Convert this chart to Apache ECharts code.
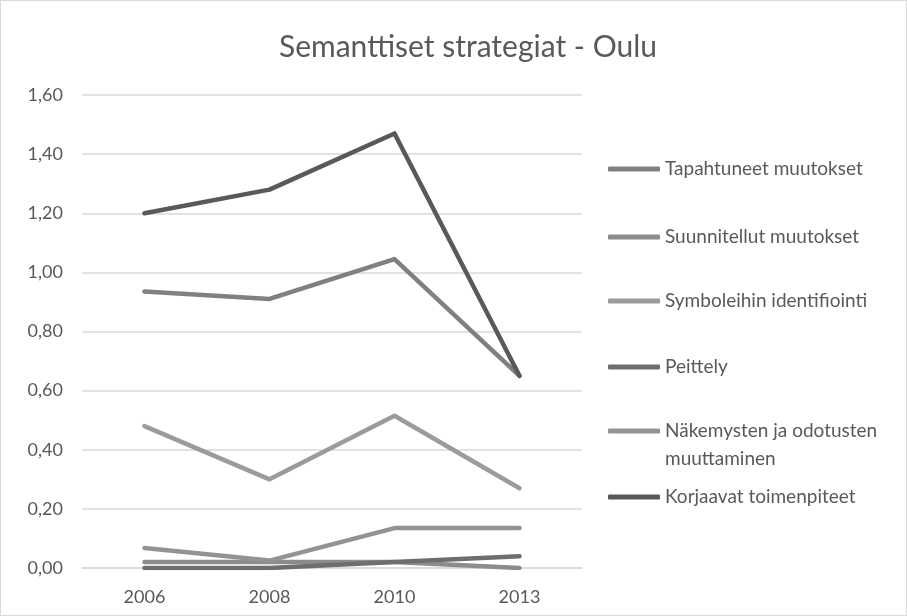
<!DOCTYPE html>
<html>
<head>
<meta charset="utf-8">
<script src="https://cdn.jsdelivr.net/npm/echarts@6/dist/echarts.min.js"></script>
<style>
  html, body { margin: 0; padding: 0; background: #fff; }
  #chart {
    width: 905px;
    height: 614px;
    border: 1px solid #d9d9d9;
  }
</style>
</head>
<body>
<div id="chart"></div>
<script>
var years = ['2006', '2008', '2010', '2013'];

var tapahtuneet = [0.935, 0.91, 1.045, 0.65];
var suunnitellut = [0.02, 0.02, 0.02, 0.0];
var symboleihin = [0.48, 0.30, 0.515, 0.27];
var peittely = [0.0, 0.0, 0.02, 0.04];
var nakemysten = [0.068, 0.025, 0.135, 0.135];
var korjaavat = [1.20, 1.28, 1.47, 0.65];

var names = [
  'Tapahtuneet muutokset',
  'Suunnitellut muutokset',
  'Symboleihin identifiointi',
  'Peittely',
  'Näkemysten ja odotusten muuttaminen',
  'Korjaavat toimenpiteet'
];
var values = [tapahtuneet, suunnitellut, symboleihin, peittely, nakemysten, korjaavat];
var colors = ['#808080', '#8c8c8c', '#9b9b9b', '#6e6e6e', '#939393', '#595959'];
// legend row centres: 168, 236, 300, 366, 430, 496
var legendTops = [154, 222, 286, 352, 416, 482];

var chart = echarts.init(document.getElementById('chart'));

var legends = names.map(function (name, i) {
  return {
    left: 607,
    top: legendTops[i],
    padding: 0,
    orient: 'vertical',
    data: [name],
    icon: 'roundRect',
    itemWidth: 52,
    itemHeight: 5,
    itemGap: 0,
    selectedMode: false,
    formatter: function (n) {
      // second half of the long name goes on its own row below
      return n === names[4] ? 'Näkemysten ja odotusten' : n;
    },
    textStyle: {
      fontFamily: 'Lato',
      fontSize: 19,
      color: '#595959',
      lineHeight: 28
    }
  };
});

chart.setOption({
  animation: false,
  title: {
    text: 'Semanttiset strategiat - Oulu',
    left: 462,
    textAlign: 'center',
    top: 26,
    textStyle: {
      fontFamily: 'Lato',
      fontSize: 30,
      fontWeight: 'normal',
      color: '#595959'
    }
  },
  legend: legends,
  graphic: [{
    type: 'text',
    left: 664,
    top: 448,
    style: {
      text: 'muuttaminen',
      font: '19px Lato',
      fill: '#595959'
    }
  }],
  grid: {
    left: 81,
    right: 324,
    top: 94,
    bottom: 47
  },
  xAxis: {
    type: 'category',
    data: years,
    boundaryGap: true,
    axisTick: { show: false },
    axisLine: { lineStyle: { color: '#d9d9d9', width: 1.5 } },
    axisLabel: {
      fontFamily: 'Lato',
      fontSize: 18,
      color: '#595959',
      margin: 20
    }
  },
  yAxis: {
    type: 'value',
    min: 0,
    max: 1.6,
    interval: 0.2,
    axisLine: { show: false },
    axisTick: { show: false },
    splitLine: { lineStyle: { color: '#d9d9d9', width: 1.5 } },
    axisLabel: {
      fontFamily: 'Lato',
      fontSize: 18,
      color: '#595959',
      margin: 19,
      formatter: function (v) {
        return v.toFixed(2).replace('.', ',');
      }
    }
  },
  series: names.map(function (name, i) {
    return {
      name: name,
      type: 'line',
      data: values[i],
      symbol: 'none',
      color: colors[i],
      lineStyle: { width: 4.5, color: colors[i], cap: 'round', join: 'round' }
    };
  })
});
</script>
</body>
</html>
